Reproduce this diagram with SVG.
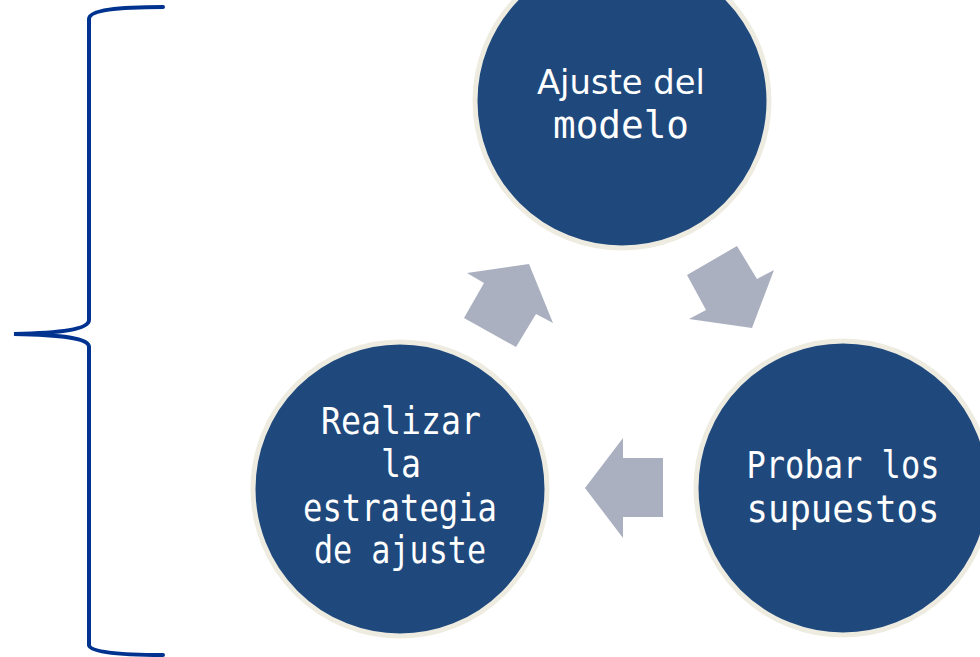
<svg xmlns="http://www.w3.org/2000/svg" width="980" height="657" viewBox="0 0 980 657">
<style>
.node{fill:#1F497D;stroke:#EEECE1;stroke-width:5}
.lbl{fill:#FFFFFF;font-family:"DejaVu Sans Mono","Liberation Mono",monospace;font-size:37px;text-anchor:middle}
.sans{font-family:"DejaVu Sans","Liberation Sans",sans-serif;font-size:34px}
.arr{fill:#AAB0BF}
.brace{fill:none;stroke:#00338F;stroke-width:4;stroke-linecap:round}
</style>
<rect width="980" height="657" fill="#FFFFFF"/>
<g id="brace">
<path class="brace" d="M163,7 C118,7 89,10 89,19 L89,320 C89,329 62,333 14,334 C62,335 89,338 89,347 L89,645 C89,652 118,655 163,655"/>
</g>
<g id="connectors">
<polygon class="arr" points="467,273 529,264 553,323 536,314 516,347 464,318 484,283"/>
<polygon class="arr" points="737,246 757,279 774,270 752,328 689,319 706,310 687,275"/>
<polygon class="arr" points="663,458 623,458 623,438 585,488 623,538 623,517 663,517"/>
</g>
<g id="node-ajuste">
<circle class="node" cx="622" cy="101" r="147"/>
<text class="lbl sans" x="621" y="94" textLength="168" lengthAdjust="spacingAndGlyphs">Ajuste del</text>
<text class="lbl" x="621" y="138" textLength="136" lengthAdjust="spacingAndGlyphs">modelo</text>
</g>
<g id="node-probar">
<circle class="node" cx="843" cy="488" r="147"/>
<text class="lbl" x="843" y="478" textLength="193" lengthAdjust="spacingAndGlyphs">Probar los</text>
<text class="lbl" x="843" y="522" textLength="193" lengthAdjust="spacingAndGlyphs">supuestos</text>
</g>
<g id="node-realizar">
<circle class="node" cx="400" cy="489" r="147"/>
<text class="lbl" x="401" y="434" textLength="160" lengthAdjust="spacingAndGlyphs">Realizar</text>
<text class="lbl" x="401" y="477" textLength="40" lengthAdjust="spacingAndGlyphs">la</text>
<text class="lbl" x="400" y="521" textLength="194" lengthAdjust="spacingAndGlyphs">estrategia</text>
<text class="lbl" x="400" y="563" textLength="172" lengthAdjust="spacingAndGlyphs">de ajuste</text>
</g>
</svg>
